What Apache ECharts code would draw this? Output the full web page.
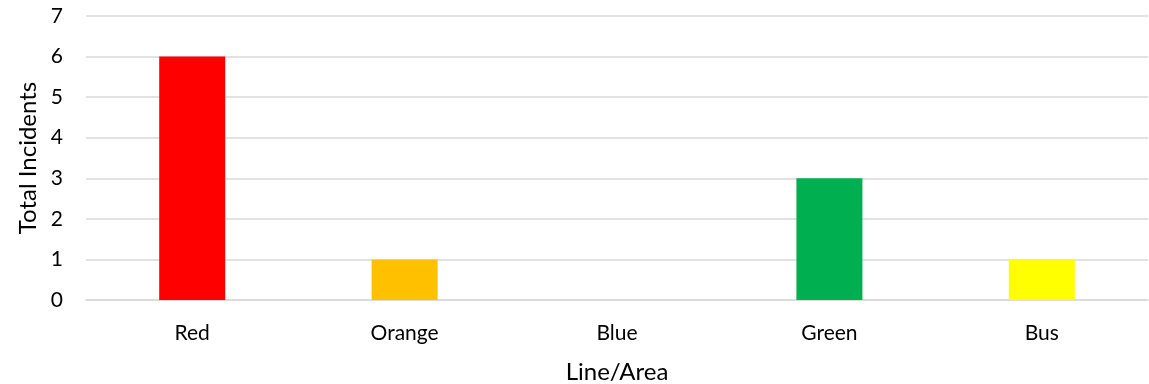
<!DOCTYPE html>
<html>
<head>
<meta charset="utf-8">
<script src="https://cdn.jsdelivr.net/npm/echarts@6/dist/echarts.min.js"></script>
<style>
  html, body { margin: 0; padding: 0; background: #fff; }
  #chart { width: 1149px; height: 384px; }
</style>
</head>
<body>
<div id="chart"></div>
<script>
// Incidents per line / service area
const categories = ['Red', 'Orange', 'Blue', 'Green', 'Bus'];
const incidents = [6, 1, 0, 3, 1];
const barColors = ['#FF0000', '#FFC000', '#0070C0', '#00B050', '#FFFF00'];
const yTicks = [0, 1, 2, 3, 4, 5, 6, 7];

const font = 'Lato, "Liberation Sans", sans-serif';
const chart = echarts.init(document.getElementById('chart'));

chart.setOption({
  animation: false,
  grid: { left: 86, right: 1, top: 16, bottom: 84, outerBoundsMode: 'none', containLabel: false },
  xAxis: {
    type: 'category',
    data: categories,
    name: 'Line/Area',
    nameLocation: 'middle',
    nameGap: 60,
    nameTextStyle: { color: '#000', fontSize: 24, fontFamily: font },
    axisTick: { show: false },
    axisLine: { lineStyle: { color: '#d9d9d9', width: 1.5 } },
    axisLabel: { color: '#000', fontSize: 21, fontFamily: font, margin: 23 }
  },
  yAxis: {
    type: 'value',
    min: yTicks[0],
    max: yTicks[yTicks.length - 1],
    interval: 1,
    name: 'Total Incidents',
    nameLocation: 'middle',
    nameGap: 45,
    nameTextStyle: { color: '#000', fontSize: 24, fontFamily: font },
    axisLine: { show: false },
    axisTick: { show: false },
    splitLine: { lineStyle: { color: '#d9d9d9', width: 1.5 } },
    axisLabel: { color: '#000', fontSize: 21, fontFamily: font, margin: 23 }
  },
  series: [{
    type: 'bar',
    data: incidents.map((v, i) => ({ value: v, itemStyle: { color: barColors[i] } })),
    barWidth: 66
  }]
});
</script>
</body>
</html>
